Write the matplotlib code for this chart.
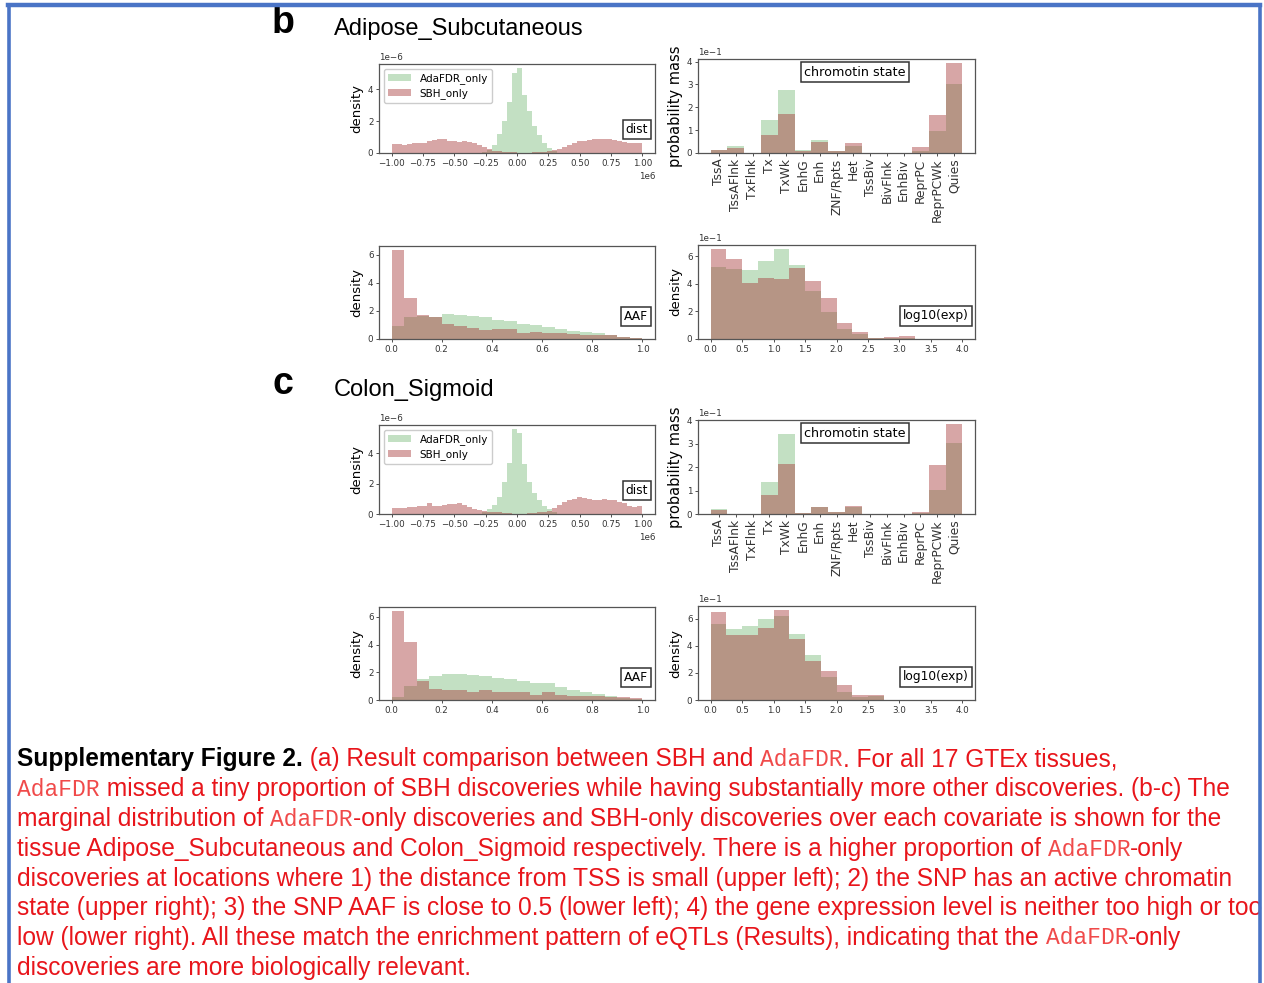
import numpy as np
import matplotlib
matplotlib.use("Agg")
import matplotlib.pyplot as plt
from matplotlib.lines import Line2D
from matplotlib.ticker import MultipleLocator

# ---------------- data ----------------
tissues = ["Adipose_Subcutaneous", "Colon_Sigmoid"]
panel_letters = ["b", "c"]
series_names = ["AdaFDR_only", "SBH_only"]

# distance from TSS: 50 bins over [-1e6, 1e6], density in units of 1e-6
dist_range = (-1e6, 1e6)
dist_nbins = 50
adipose_dist_ada = [0, 0, 0, 0, 0, 0, 0, 0, 0, 0, 0, 0, 0, 0, 0, 0, 0,
                    0.02, 0.05, 0.2, 0.5, 1.2, 2.0, 3.2, 5.0, 5.3, 3.6, 2.6, 1.7, 1.1,
                    0.6, 0.3, 0.1, 0.03,
                    0, 0, 0, 0, 0, 0, 0, 0, 0, 0, 0, 0, 0, 0, 0, 0]
adipose_dist_sbh = [0.55, 0.55, 0.5, 0.55, 0.6, 0.6, 0.65, 0.75, 0.8, 0.9,
                    0.85, 0.75, 0.75, 0.7, 0.75, 0.7, 0.6, 0.5, 0.35, 0.25,
                    0.15, 0.1, 0.06, 0.05, 0.04,
                    0.03, 0.03, 0.03, 0.04, 0.05, 0.08, 0.12, 0.18, 0.25, 0.35,
                    0.5, 0.65, 0.75, 0.75, 0.8, 0.85, 0.9, 0.9, 0.85, 0.8,
                    0.75, 0.7, 0.65, 0.6, 0.6]
colon_dist_ada = [0, 0, 0, 0, 0, 0, 0, 0, 0, 0, 0, 0, 0, 0, 0, 0, 0,
                  0.03, 0.1, 0.3, 0.6, 1.1, 2.1, 3.4, 5.6, 5.35, 3.3, 2.1, 1.4, 0.9,
                  0.5, 0.3, 0.1, 0.03,
                  0, 0, 0, 0, 0, 0, 0, 0, 0, 0, 0, 0, 0, 0, 0, 0]
colon_dist_sbh = [0.4, 0.4, 0.42, 0.45, 0.45, 0.5, 0.5, 0.72, 0.55, 0.55,
                  0.6, 0.65, 0.65, 0.7, 0.6, 0.45, 0.3, 0.25, 0.2, 0.15,
                  0.1, 0.1, 0.05, 0.05, 0.03,
                  0.03, 0.03, 0.05, 0.05, 0.1, 0.1, 0.2, 0.4, 0.6, 0.8,
                  0.9, 1.0, 1.1, 1.05, 1.0, 0.95, 0.95, 1.0, 0.9, 0.95,
                  0.8, 0.7, 0.5, 0.45, 0.55]

# chromatin state: probability mass in units of 1e-1
chrom_states = ["TssA", "TssAFlnk", "TxFlnk", "Tx", "TxWk", "EnhG", "Enh",
                "ZNF/Rpts", "Het", "TssBiv", "BivFlnk", "EnhBiv", "ReprPC",
                "ReprPCWk", "Quies"]
adipose_chrom_ada = [0.15, 0.3, 0.0, 1.45, 2.75, 0.12, 0.58, 0.1, 0.3, 0.0, 0.0, 0.0, 0.08, 0.95, 3.0]
adipose_chrom_sbh = [0.15, 0.2, 0.0, 0.8, 1.7, 0.08, 0.48, 0.1, 0.42, 0.0, 0.0, 0.02, 0.28, 1.68, 3.92]
colon_chrom_ada = [0.22, 0.02, 0.01, 1.37, 3.42, 0.05, 0.3, 0.08, 0.3, 0.0, 0.0, 0.02, 0.05, 1.02, 3.05]
colon_chrom_sbh = [0.15, 0.0, 0.0, 0.83, 2.12, 0.05, 0.3, 0.08, 0.33, 0.0, 0.0, 0.02, 0.07, 2.1, 3.82]

# AAF: 20 bins over [0, 1], density
aaf_range = (0.0, 1.0)
aaf_nbins = 20
adipose_aaf_ada = [0.95, 1.6, 1.65, 1.6, 1.8, 1.7, 1.65, 1.6, 1.35, 1.25,
                   1.1, 1.0, 0.85, 0.7, 0.6, 0.5, 0.45, 0.3, 0.15, 0.05]
adipose_aaf_sbh = [6.3, 2.95, 1.7, 1.6, 1.1, 0.95, 0.75, 0.65, 0.7, 0.7,
                   0.45, 0.5, 0.4, 0.45, 0.35, 0.3, 0.3, 0.25, 0.15, 0.08]
colon_aaf_ada = [0.2, 1.0, 1.5, 1.75, 1.85, 1.9, 1.8, 1.7, 1.6, 1.5,
                 1.35, 1.2, 1.2, 0.95, 0.7, 0.6, 0.45, 0.3, 0.15, 0.05]
colon_aaf_sbh = [6.4, 4.2, 1.4, 0.8, 0.75, 0.7, 0.6, 0.75, 0.6, 0.6,
                 0.6, 0.35, 0.55, 0.35, 0.3, 0.3, 0.3, 0.25, 0.2, 0.15]

# log10(expression): 16 bins over [0, 4], density in units of 1e-1
exp_range = (0.0, 4.0)
exp_nbins = 16
adipose_exp_ada = [5.25, 5.05, 5.0, 5.65, 6.5, 5.35, 3.5, 1.95, 0.75, 0.35, 0.08, 0.1, 0.05, 0.02, 0.0, 0.0]
adipose_exp_sbh = [6.5, 5.8, 4.05, 4.4, 4.35, 5.15, 4.2, 2.95, 1.15, 0.5, 0.05, 0.15, 0.25, 0.02, 0.0, 0.0]
colon_exp_ada = [5.6, 5.25, 5.45, 6.0, 6.2, 4.9, 3.3, 1.7, 0.6, 0.25, 0.3, 0.02, 0.02, 0.02, 0.0, 0.0]
colon_exp_sbh = [6.5, 4.8, 4.8, 5.3, 6.6, 4.5, 2.9, 2.15, 1.1, 0.4, 0.4, 0.02, 0.02, 0.02, 0.0, 0.0]

caption_lines = [
    [("Supplementary Figure 2.", "bold"), (" (a) Result comparison between SBH and ", "red"),
     ("AdaFDR", "mono"), (". For all 17 GTEx tissues,", "red")],
    [("AdaFDR", "mono"), (" missed a tiny proportion of SBH discoveries while having substantially more other discoveries. (b-c) The", "red")],
    [("marginal distribution of ", "red"), ("AdaFDR", "mono"),
     ("-only discoveries and SBH-only discoveries over each covariate is shown for the", "red")],
    [("tissue Adipose_Subcutaneous and Colon_Sigmoid respectively. There is a higher proportion of ", "red"),
     ("AdaFDR", "mono"), ("-only", "red")],
    [("discoveries at locations where 1) the distance from TSS is small (upper left); 2) the SNP has an active chromatin", "red")],
    [("state (upper right); 3) the SNP AAF is close to 0.5 (lower left); 4) the gene expression level is neither too high or too", "red")],
    [("low (lower right). All these match the enrichment pattern of eQTLs (Results), indicating that the ", "red"),
     ("AdaFDR", "mono"), ("-only", "red")],
    [("discoveries are more biologically relevant.", "red")],
]

# ---------------- style ----------------
plt.rcParams["font.family"] = ["DejaVu Sans"]
W, H = 1264, 983
fig = plt.figure(figsize=(W / 100, H / 100), dpi=100)

GREEN = "#3a9a3a"
RED = "#a83a3a"
A_G, A_R = 0.3, 0.45
SPINE = "#555555"


def add_ax(x0, y0, x1, y1):
    return fig.add_axes([x0 / W, 1 - y1 / H, (x1 - x0) / W, (y1 - y0) / H])


def style(ax):
    for s in ax.spines.values():
        s.set_color(SPINE)
        s.set_linewidth(0.9)
    ax.tick_params(labelsize=6.3, length=2.5, width=0.6, pad=1.5, colors="#333333")
    ax.yaxis.get_offset_text().set_fontsize(6.3)
    ax.xaxis.get_offset_text().set_fontsize(6.3)


def hist_pair(ax, rng, nbins, ada, sbh, scale):
    edges = np.linspace(rng[0], rng[1], nbins + 1)
    w = np.diff(edges)
    ax.bar(edges[:-1], np.array(ada) * scale, width=w, align="edge",
           color=GREEN, alpha=A_G, lw=0, label=series_names[0])
    ax.bar(edges[:-1], np.array(sbh) * scale, width=w, align="edge",
           color=RED, alpha=A_R, lw=0, label=series_names[1])


def tag(ax, txt, x, y, ha="right", fs=8.8):
    ax.text(x, y, txt, transform=ax.transAxes, ha=ha, va="center", fontsize=fs,
            bbox=dict(boxstyle="square,pad=0.25", fc="white", ec="#333333", lw=1.1))


datasets = [
    (adipose_dist_ada, adipose_dist_sbh, adipose_chrom_ada, adipose_chrom_sbh,
     adipose_aaf_ada, adipose_aaf_sbh, adipose_exp_ada, adipose_exp_sbh),
    (colon_dist_ada, colon_dist_sbh, colon_chrom_ada, colon_chrom_sbh,
     colon_aaf_ada, colon_aaf_sbh, colon_exp_ada, colon_exp_sbh),
]

for i, (dA, dS, cA, cS, aA, aS, eA, eS) in enumerate(datasets):
    off = 361 * i
    fig.text(283 / W, 1 - (23 + off) / H, panel_letters[i], ha="center", va="center",
             fontsize=27, weight="bold", family="Liberation Sans")
    fig.text(334 / W, 1 - (29 + off) / H, tissues[i], ha="left", va="center",
             fontsize=17, family="Liberation Sans")

    # dist
    ax = add_ax(379, 64 + off, 655, 153 + off)
    hist_pair(ax, dist_range, dist_nbins, dA, dS, 1e-6)
    ax.set_xticks(np.linspace(-1e6, 1e6, 9))
    ax.yaxis.set_major_locator(MultipleLocator(2e-6))
    ax.set_ylabel("density", fontsize=9.5, labelpad=3)
    ax.legend(loc="upper left", fontsize=7.5, handlelength=2.2, borderpad=0.4,
              labelspacing=0.35, framealpha=1, edgecolor="#cccccc")
    tag(ax, "dist", 0.975, 0.26)
    style(ax)

    # chromatin state
    ax = add_ax(698, 59 + off, 975, 153 + off)
    x = np.arange(len(chrom_states))
    ax.bar(x, np.array(cA) * 0.1, width=1.0, color=GREEN, alpha=A_G, lw=0)
    ax.bar(x, np.array(cS) * 0.1, width=1.0, color=RED, alpha=A_R, lw=0)
    ax.set_xticks(x)
    ax.set_xticklabels(chrom_states, rotation=90)
    ax.yaxis.set_major_locator(MultipleLocator(0.1))
    ax.ticklabel_format(axis="y", style="sci", scilimits=(0, 0))
    ax.set_ylabel("probability mass", fontsize=10.5, labelpad=3)
    tag(ax, "chromotin state", 0.567, 0.86, ha="center", fs=9.2)
    style(ax)
    ax.tick_params(axis="x", labelsize=8.8)

    # AAF
    ax = add_ax(379, 246 + off, 655, 339 + off)
    hist_pair(ax, aaf_range, aaf_nbins, aA, aS, 1.0)
    ax.xaxis.set_major_locator(MultipleLocator(0.2))
    ax.yaxis.set_major_locator(MultipleLocator(2))
    ax.set_ylabel("density", fontsize=9.5, labelpad=3)
    tag(ax, "AAF", 0.975, 0.24)
    style(ax)

    # log10(exp)
    ax = add_ax(698, 245 + off, 975, 339 + off)
    hist_pair(ax, exp_range, exp_nbins, eA, eS, 0.1)
    ax.xaxis.set_major_locator(MultipleLocator(0.5))
    ax.yaxis.set_major_locator(MultipleLocator(0.2))
    ax.ticklabel_format(axis="y", style="sci", scilimits=(0, 0))
    ax.set_ylabel("density", fontsize=9.5, labelpad=3)
    tag(ax, "log10(exp)", 0.978, 0.245)
    style(ax)

# ---------------- caption ----------------
renderer = fig.canvas.get_renderer()
RED_TXT = "#e8151b"


def seg_kwargs(kind, fs, fs_mono):
    if kind == "bold":
        return dict(family="Liberation Sans", weight="bold", color="black", fontsize=fs)
    if kind == "mono":
        return dict(family="Liberation Mono", color="#f04a4a", fontsize=fs_mono)
    return dict(family="Liberation Sans", color=RED_TXT, fontsize=fs)


def width_px(s, kw):
    t1 = fig.text(0, 0, "|" + s + "|", **kw)
    w1 = t1.get_window_extent(renderer).width
    t1.remove()
    t2 = fig.text(0, 0, "||", **kw)
    w2 = t2.get_window_extent(renderer).width
    t2.remove()
    return w1 - w2


base_fs = 16.0
w_ref = width_px(caption_lines[5][0][0], seg_kwargs("red", base_fs, base_fs))
fs = base_fs * 1250.0 / w_ref
fs_mono = 16.6

y_lines = [759, 789, 819, 849, 879, 908, 938, 968]
for yl, line in zip(y_lines, caption_lines):
    xpx = 17.0
    for txt, kind in line:
        kw = seg_kwargs(kind, fs, fs_mono)
        fig.text(xpx / W, 1 - yl / H, txt, ha="left", va="center", **kw)
        xpx += width_px(txt, kw)

# ---------------- border ----------------
BLUE = "#4a74c6"
for xs, ys, lw in [([8 / W, 1260 / W], [1 - 5 / H, 1 - 5 / H], 3.2),
                   ([8.5 / W, 8.5 / W], [1 - 5 / H, 0], 2.6),
                   ([1260 / W, 1260 / W], [1 - 5 / H, 0], 2.6)]:
    fig.add_artist(Line2D(xs, ys, transform=fig.transFigure, color=BLUE, lw=lw, zorder=10))

fig.savefig("out.png", dpi=100)
